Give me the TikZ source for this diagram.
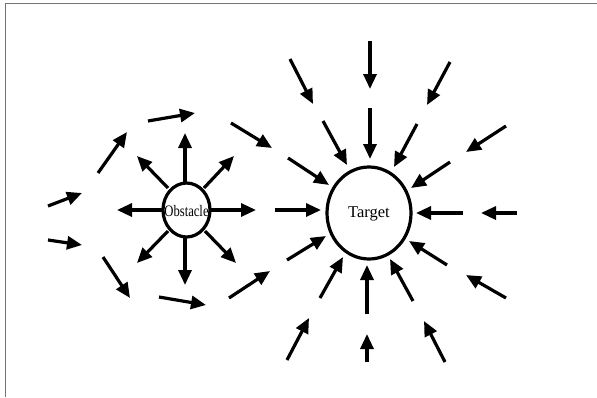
\documentclass[tikz,border=0pt]{standalone}
\usepackage{fontspec}
\setmainfont{Liberation Serif}
\usetikzlibrary{arrows.meta}
\begin{document}
\begin{tikzpicture}[x=1pt,y=-1pt,
  vec/.style={line width=3.2pt,-{Triangle[length=15pt,width=13pt]}},
  rim/.style={line width=3.2pt}]
\useasboundingbox (0,0) rectangle (597,397);
% frame
\draw[line width=1.6pt,color=black!55] (5.5,397) -- (5.5,3.5) -- (597,3.5);

% obstacle and target
\draw[rim] (186.5,210) ellipse [x radius=23.5pt,y radius=27pt];
\node (obs) at (186.5,211) {\fontsize{16}{16}\selectfont\scalebox{0.79}[1]{Obstacle}};
\draw[rim] (369,213) ellipse [x radius=42pt,y radius=46pt];
\node (tgt) at (369,214) {\fontsize{16.5}{16}\selectfont Target};

% repulsion from the obstacle
\foreach \a/\b in {
  {185,182}/{185,133}, {168,188}/{137,156}, {204,188}/{234,156},
  {163,210}/{117,210}, {210,210}/{256,210}, {168,231}/{137,263},
  {185,237}/{185,285}, {205,231}/{236,263}}
  \draw[vec] (\a) -- (\b);

% flow around the obstacle
\foreach \a/\b in {
  {48,206}/{82,193}, {48,240}/{82,245}, {98,173}/{127,132},
  {148,121}/{195,113}, {231,123}/{272,148}, {103,257}/{130,298},
  {159,297}/{206,305}, {229,298}/{270,271}, {275,210}/{321,210}}
  \draw[vec] (\a) -- (\b);

% attraction to the target
\foreach \a/\b in {
  {370,41}/{370,89}, {290,59}/{313,104}, {450,62}/{427,105},
  {370,108}/{370,159}, {323,121}/{347,165}, {417,124}/{394,167},
  {506,126}/{466,152}, {288,158}/{329,185}, {450,162}/{411,188},
  {463,213}/{416,213}, {517,213}/{481,213}, {287,260}/{326,236},
  {447,265}/{409,241}, {320,298}/{343,257}, {367,314}/{367,265},
  {413,301}/{390,259}, {506,298}/{466,275}, {287,360}/{309,318},
  {367,362}/{367,334}, {445,362}/{424,321}}
  \draw[vec] (\a) -- (\b);
\end{tikzpicture}
\end{document}
